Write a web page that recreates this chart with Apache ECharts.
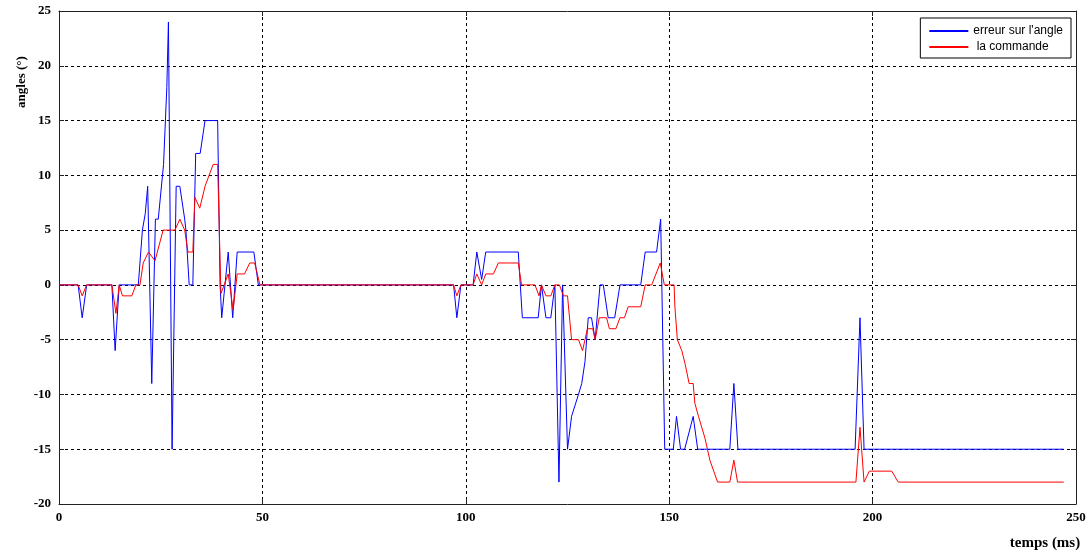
<!DOCTYPE html>
<html>
<head>
<meta charset="utf-8">
<script src="https://cdn.jsdelivr.net/npm/echarts@6/dist/echarts.min.js"></script>
<style>
  html, body { margin: 0; padding: 0; background: #fff; }
  #chart { width: 1092px; height: 553px; }
</style>
</head>
<body>
<div id="chart"></div>
<script>
// Angle error (blue) and control command (red) versus time (ms)
const errTime = [0, 4.7, 5.7, 6.8, 13.0, 13.8, 14.8, 19.5, 20.5, 21.2, 21.8, 22.8, 23.7, 24.4, 25.7, 26.5, 26.9,
  27.8, 28.8, 29.7, 30.9, 31.2, 32.0, 32.9, 33.6, 34.7, 35.9, 39.0, 39.6, 40.0, 41.6, 42.7, 43.8, 47.9, 49.0,
  97.0, 97.8, 98.8, 101.8, 102.7, 103.9, 104.9, 112.9, 113.9, 117.8, 118.6, 119.7, 120.9, 121.9, 122.9, 123.8,
  125.0, 126.0, 127.7, 128.5, 129.3, 130.1, 130.9, 131.8, 133.0, 133.8, 135.0, 136.6, 137.9, 143.0, 144.1,
  146.9, 147.9, 148.9, 151.0, 151.8, 152.8, 153.8, 155.9, 157.0, 164.9, 165.9, 166.9, 195.7, 196.9, 197.9, 247.0];
const errValue = [0, 0, -3, 0, 0, -6, 0, 0, 5, 6.5, 9, -9, 6, 6, 11, 18, 24,
  -15, 9, 9, 6, 5, 0, 0, 12, 12, 15, 15, 0, -3, 3, -3, 3, 3, 0,
  0, -3, 0, 0, 3, 0.5, 3, 3, -3, -3, 0, -3, -3, 0, -18, 0,
  -15, -12, -10, -9, -7, -3, -3, -5, 0, 0, -3, -3, 0, 0, 3,
  3, 6, -15, -15, -12, -15, -15, -12, -15, -15, -9, -15, -15, -3, -15, -15];

const cmdTime = [0, 4.7, 5.7, 6.8, 13.0, 14.0, 14.8, 15.6, 17.9, 18.9, 19.9, 20.7, 22.0, 23.6, 25.6, 28.5, 29.7,
  30.9, 31.7, 32.9, 33.4, 34.6, 35.9, 37.9, 39.0, 39.8, 41.6, 42.8, 43.8, 45.6, 46.9, 48.1, 49.4,
  97.0, 97.8, 98.8, 101.8, 102.7, 103.9, 104.9, 106.8, 108.0, 112.9, 113.7, 117.0, 118.0, 118.6, 119.7, 120.9,
  121.9, 123.0, 124.0, 125.0, 126.0, 127.7, 128.7, 129.9, 131.2, 131.8, 132.8, 134.6, 135.3, 136.9, 137.9,
  139.0, 139.9, 143.0, 144.1, 145.7, 147.8, 148.8, 151.2, 151.4, 152.0, 153.1, 153.9, 154.9, 155.9, 156.3,
  157.2, 158.8, 160.0, 161.9, 164.9, 165.9, 166.8, 195.9, 196.9, 197.9, 199.2, 204.7, 206.3, 247.0];
const cmdValue = [0, 0, -1, 0, 0, -2.6, 0, -1, -1, 0, 0, 2, 3, 2.2, 5, 5, 6,
  5, 3, 3, 8, 7, 9, 11, 11, -0.8, 1, -2.3, 1, 1, 2, 2, 0,
  0, -1, 0, 0, 1, 0, 1, 1, 2, 2, 0, 0, -1, 0, -1, -1,
  0, 0, -1, -1, -5, -5, -6, -4, -4, -5, -3, -3, -4, -4, -3,
  -3, -2, -2, 0, 0, 2, 0, 0, -2, -5, -6, -7.2, -9, -9, -10.8,
  -12, -14, -16, -18, -18, -16, -18, -18, -13, -18, -17, -17, -18, -18];

const xTicks = { min: 0, max: 250, interval: 50 };
const yTicks = { min: -20, max: 25, interval: 5 };

const zip = (xs, ys) => xs.map((x, i) => [x, ys[i]]);

const tickFont = { fontFamily: 'Liberation Serif', fontWeight: 'bold', fontSize: 13, color: '#000' };
const frameLine = { lineStyle: { color: '#222', width: 1 } };
const gridDash = { show: true, lineStyle: { color: '#000', type: [3, 3], width: 1 } };

const chart = echarts.init(document.getElementById('chart'), null, { renderer: 'canvas' });
chart.setOption({
  animation: false,
  backgroundColor: '#fff',
  grid: { left: 59, right: 16, top: 11, bottom: 49, containLabel: false },
  legend: {
    orient: 'vertical',
    right: 21,
    top: 18,
    padding: [7, 8, 5, 9],
    itemGap: 4,
    itemWidth: 39,
    itemHeight: 2,
    icon: 'rect',
    backgroundColor: '#fff',
    borderColor: '#000',
    borderWidth: 1,
    borderRadius: 0,
    textStyle: { fontFamily: 'Liberation Sans', fontSize: 12, color: '#000' },
    formatter: name => (name === 'la commande' ? ' ' + name : name),
    data: ['erreur sur l\'angle', 'la commande']
  },
  xAxis: [
    {
      type: 'value', min: xTicks.min, max: xTicks.max, interval: xTicks.interval,
      axisLine: Object.assign({ show: true, onZero: false }, frameLine),
      axisTick: { show: true, inside: true, length: 5, lineStyle: { color: '#222' } },
      axisLabel: Object.assign({ margin: 7 }, tickFont),
      splitLine: gridDash
    },
    {
      type: 'value', position: 'top', min: xTicks.min, max: xTicks.max, interval: xTicks.interval,
      axisLine: Object.assign({ show: true, onZero: false }, frameLine),
      axisTick: { show: true, inside: true, length: 5, lineStyle: { color: '#222' } },
      axisLabel: { show: false }, splitLine: { show: false }
    }
  ],
  yAxis: [
    {
      type: 'value', min: yTicks.min, max: yTicks.max, interval: yTicks.interval,
      axisLine: Object.assign({ show: true, onZero: false }, frameLine),
      axisTick: { show: true, inside: true, length: 5, lineStyle: { color: '#222' } },
      axisLabel: Object.assign({ margin: 8 }, tickFont),
      splitLine: gridDash
    },
    {
      type: 'value', position: 'right', min: yTicks.min, max: yTicks.max, interval: yTicks.interval,
      axisLine: Object.assign({ show: true, onZero: false }, frameLine),
      axisTick: { show: true, inside: true, length: 5, lineStyle: { color: '#222' } },
      axisLabel: { show: false }, splitLine: { show: false }
    }
  ],
  graphic: [
    {
      type: 'text', x: 22, y: 82, rotation: Math.PI / 2,
      style: { text: 'angles (°)', align: 'center', verticalAlign: 'middle',
        font: 'bold 13px "Liberation Serif"', fill: '#000' }
    },
    {
      type: 'text', x: 1045, y: 543,
      style: { text: 'temps (ms)', align: 'center', verticalAlign: 'middle',
        font: 'bold 15px "Liberation Serif"', fill: '#000' }
    }
  ],
  series: [
    {
      name: 'erreur sur l\'angle', type: 'line', xAxisIndex: 0, yAxisIndex: 0,
      data: zip(errTime, errValue), showSymbol: false, symbol: 'none',
      color: '#0000ff', lineStyle: { color: '#0000ff', width: 1 }
    },
    {
      name: 'la commande', type: 'line', xAxisIndex: 0, yAxisIndex: 0,
      data: zip(cmdTime, cmdValue), showSymbol: false, symbol: 'none',
      color: '#ff0000', lineStyle: { color: '#ff0000', width: 1 }
    }
  ]
});
</script>
</body>
</html>
